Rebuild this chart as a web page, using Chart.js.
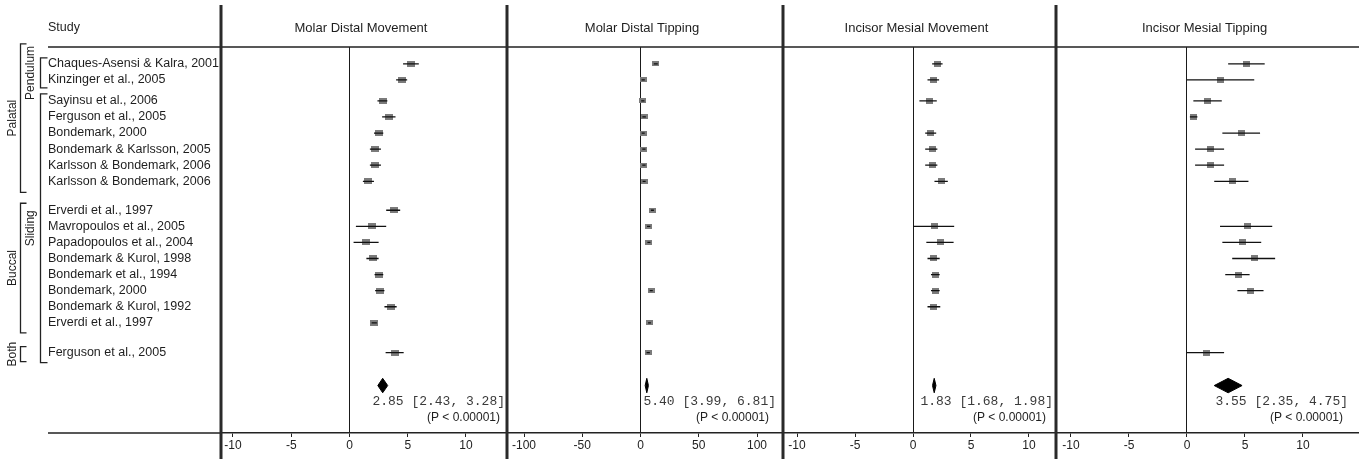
<!DOCTYPE html>
<html>
<head>
<meta charset="utf-8">
<title>Forest plot</title>
<script src="https://cdn.jsdelivr.net/npm/chart.js@4.4.1/dist/chart.umd.min.js"></script>
<style>
  html, body { margin: 0; padding: 0; background: #fff; }
  #wrap { width: 1359px; height: 459px; position: relative; }
</style>
</head>
<body>
<div id="wrap"><canvas id="forest"></canvas></div>
<script>
const studies = [
    'Chaques-Asensi & Kalra, 2001',
    'Kinzinger et al., 2005',
    'Sayinsu et al., 2006',
    'Ferguson et al., 2005',
    'Bondemark, 2000',
    'Bondemark & Karlsson, 2005',
    'Karlsson & Bondemark, 2006',
    'Karlsson & Bondemark, 2006',
    'Erverdi et al., 1997',
    'Mavropoulos et al., 2005',
    'Papadopoulos et al., 2004',
    'Bondemark & Kurol, 1998',
    'Bondemark et al., 1994',
    'Bondemark, 2000',
    'Bondemark & Kurol, 1992',
    'Erverdi et al., 1997',
    'Ferguson et al., 2005'
];

const panelTitles = ['Molar Distal Movement', 'Molar Distal Tipping', 'Incisor Mesial Movement', 'Incisor Mesial Tipping'];

// Molar distal movement (mm)
const molarMoveMean = [5.3, 4.5, 2.85, 3.4, 2.55, 2.2, 2.2, 1.6, 3.8, 1.95, 1.45, 2.05, 2.55, 2.6, 3.55, 2.1, 3.9];
const molarMoveLow = [4.6, 4.0, 2.4, 2.8, 2.1, 1.75, 1.75, 1.15, 3.15, 0.55, 0.35, 1.45, 2.15, 2.2, 3.0, 1.9, 3.1];
const molarMoveHigh = [5.95, 4.95, 3.25, 3.95, 2.9, 2.7, 2.7, 2.1, 4.35, 3.15, 2.5, 2.5, 2.9, 3.0, 4.05, 2.35, 4.65];

// Molar distal tipping (degrees)
const molarTipMean = [13.1, 2.3, 2.0, 3.1, 2.3, 2.9, 2.9, 3.1, 10.2, 7.0, 7.2, null, null, 9.2, null, 7.7, 6.6];
const molarTipLow = [11.4, 0.9, 0.6, 1.6, 1.0, 1.5, 1.5, 1.8, 8.9, 5.6, 5.9, null, null, 7.9, null, 6.5, 5.2];
const molarTipHigh = [14.8, 3.7, 3.4, 4.6, 3.6, 4.3, 4.3, 4.4, 11.5, 8.4, 8.5, null, null, 10.5, null, 8.9, 8.0];

// Incisor mesial movement (mm)
const incisorMoveMean = [2.1, 1.75, 1.4, null, 1.5, 1.65, 1.65, 2.45, null, 1.85, 2.35, 1.8, 1.9, 1.9, 1.8, null, null];
const incisorMoveLow = [1.65, 1.25, 0.55, null, 1.05, 1.05, 1.05, 1.85, null, 0.0, 1.15, 1.25, 1.55, 1.55, 1.25, null, null];
const incisorMoveHigh = [2.55, 2.25, 2.05, null, 2.0, 2.1, 2.1, 3.0, null, 3.55, 3.5, 2.3, 2.3, 2.3, 2.35, null, null];

// Incisor mesial tipping (degrees)
const incisorTipMean = [5.1, 2.9, 1.8, 0.6, 4.7, 2.0, 2.0, 3.9, null, 5.2, 4.8, 5.8, 4.4, 5.5, null, null, 1.65];
const incisorTipLow = [3.55, 0.0, 0.55, 0.25, 3.05, 0.7, 0.7, 2.35, null, 2.85, 3.05, 3.9, 3.3, 4.35, null, null, 0.0];
const incisorTipHigh = [6.7, 5.8, 3.0, 0.9, 6.3, 3.2, 3.2, 5.3, null, 7.35, 6.4, 7.6, 5.4, 6.6, null, null, 3.2];

// pooled estimates
const pooledMean = [2.85, 5.40, 1.83, 3.55];
const pooledLow = [2.43, 3.99, 1.68, 2.35];
const pooledHigh = [3.28, 6.81, 1.98, 4.75];
const pooledP = ['(P < 0.00001)', '(P < 0.00001)', '(P < 0.00001)', '(P < 0.00001)'];

const mmTicks = [-10, -5, 0, 5, 10];
const degTicks = [-100, -50, 0, 50, 100];

// bracket groups (first / last study index)
const outerGroups = [
    { label: 'Palatal', first: 0, last: 7 },
    { label: 'Buccal', first: 8, last: 15 },
    { label: 'Both', first: 16, last: 16 }
];
const innerGroups = [
    { label: 'Pendulum', first: 0, last: 1 },
    { label: 'Sliding', first: 2, last: 16 }
];

// row layout: study blocks and the extra space between them
const groupSizes = [2, 6, 8, 1];
const groupGaps = [0.3, 0.8, 0.85];
const pooledGap = 2.05;

const rowPos = [];
let r = 0;
groupSizes.forEach((n, g) => {
    for (let i = 0; i < n; i++) rowPos.push(r + i);
    r += n + (groupGaps[g] || 0);
});
const pooledRow = rowPos[rowPos.length - 1] + pooledGap;

// panel settings
const panels = [
    { mean: molarMoveMean, low: molarMoveLow, high: molarMoveHigh, ticks: mmTicks, min: -11.03, max: 13.52, weight: 286, box: [8, 6], textOff: [-2, -7] },
    { mean: molarTipMean, low: molarTipLow, high: molarTipHigh, ticks: degTicks, min: -114.6, max: 122.3, weight: 276, box: [7, 5], textOff: [-7, -14] },
    { mean: incisorMoveMean, low: incisorMoveLow, high: incisorMoveHigh, ticks: mmTicks, min: -11.21, max: 12.33, weight: 273, box: [7, 6], textOff: [-3, -10] },
    { mean: incisorTipMean, low: incisorTipLow, high: incisorTipHigh, ticks: mmTicks, min: -11.29, max: 14.83, weight: 303, box: [7, 6], textOff: [-11, -16] }
];

const outerPad = [[20, 11], [7, 10], [6, 9]];
const innerPad = [[6, 8], [7, 10]];

function makeBox(w, h) {
    const c = document.createElement('canvas');
    c.width = w;
    c.height = h;
    const g = c.getContext('2d');
    g.fillStyle = '#7b7b7b';
    g.fillRect(0, 0, w, h);
    return c;
}

const datasets = [];
const scales = {};

panels.forEach((p, k) => {
    const xid = 'x' + (k + 1);
    const points = [];
    const whiskers = [];
    p.mean.forEach((m, i) => {
        if (m === null) return;
        points.push({ x: m, y: rowPos[i] });
        whiskers.push({ x: p.low[i], y: rowPos[i] }, { x: p.high[i], y: rowPos[i] }, { x: null, y: null });
    });

    datasets.push({
        type: 'scatter', xAxisID: xid, yAxisID: 'y', data: points,
        pointStyle: makeBox(p.box[0], p.box[1]), pointRadius: 4, order: 3
    });
    datasets.push({
        type: 'line', xAxisID: xid, yAxisID: 'y', data: whiskers, showLine: true,
        borderColor: '#111', borderWidth: 1.3, pointRadius: 0, fill: false, spanGaps: false, order: 2
    });
    // pooled diamond: upper edge filled down to the lower edge
    const h = 0.45;
    datasets.push({
        type: 'line', xAxisID: xid, yAxisID: 'y', showLine: true,
        data: [{ x: pooledLow[k], y: pooledRow }, { x: pooledMean[k], y: pooledRow - h }, { x: pooledHigh[k], y: pooledRow }],
        borderColor: '#000', backgroundColor: '#000', borderWidth: 1, pointRadius: 0, fill: '+1', order: 1
    });
    datasets.push({
        type: 'line', xAxisID: xid, yAxisID: 'y', showLine: true,
        data: [{ x: pooledLow[k], y: pooledRow }, { x: pooledMean[k], y: pooledRow + h }, { x: pooledHigh[k], y: pooledRow }],
        borderColor: '#000', borderWidth: 1, pointRadius: 0, fill: false, order: 1
    });

    scales[xid] = {
        type: 'linear',
        position: 'bottom',
        stack: 'panels',
        stackWeight: p.weight,
        min: p.min,
        max: p.max,
        afterBuildTicks: s => { s.ticks = p.ticks.map(v => ({ value: v })); },
        afterFit: s => {
            s.height = 26;
            s.paddingLeft = 0;
            s.paddingRight = 0;
        },
        grid: {
            drawOnChartArea: true,
            color: ctx => (ctx.tick && ctx.tick.value === 0 ? '#1a1a1a' : 'rgba(0,0,0,0)'),
            tickColor: '#222',
            tickLength: 4,
            lineWidth: 1
        },
        border: { display: true, color: '#222', width: 1.5 },
        ticks: {
            autoSkip: false, maxRotation: 0, minRotation: 0, padding: 1,
            color: '#222', font: { size: 12 },
            callback: v => String(v)
        }
    };
});

scales.y = {
    type: 'linear',
    position: 'left',
    reverse: true,
    min: -1.05,
    max: 22.95,
    afterBuildTicks: s => { s.ticks = rowPos.map(v => ({ value: v })); },
    afterFit: s => {
        s.width = 173;
        s.paddingTop = 0;
        s.paddingBottom = 0;
    },
    grid: { display: false },
    border: { display: false },
    ticks: {
        autoSkip: false,
        crossAlign: 'far',
        color: '#1e1e1e',
        font: { size: 12.5 },
        callback: (v, i) => studies[i]
    }
};

const framePlugin = {
    id: 'frame',
    afterDraw(chart) {
        const { ctx, chartArea, scales } = chart;
        const ys = scales.y;
        const cols = ['x1', 'x2', 'x3', 'x4'].map(id => scales[id]);
        ctx.save();

        // header texts
        ctx.fillStyle = '#1e1e1e';
        ctx.textBaseline = 'middle';
        ctx.font = '12.5px "Liberation Sans", Arial, sans-serif';
        ctx.textAlign = 'left';
        ctx.fillText('Study', 48, 28);
        ctx.font = '13px "Liberation Sans", Arial, sans-serif';
        ctx.textAlign = 'center';
        cols.forEach((s, k) => ctx.fillText(panelTitles[k], (s.left + s.right) / 2 - 3, 28));

        // header line and the axis line under the study column
        ctx.strokeStyle = '#222';
        ctx.lineWidth = 1.5;
        ctx.beginPath();
        ctx.moveTo(48, chartArea.top);
        ctx.lineTo(chart.width, chartArea.top);
        ctx.moveTo(48, chartArea.bottom);
        ctx.lineTo(chartArea.left, chartArea.bottom);
        ctx.stroke();

        // thick panel separators
        ctx.lineWidth = 3;
        ctx.strokeStyle = '#2a2a2a';
        ctx.beginPath();
        cols.forEach(s => {
            ctx.moveTo(s.left, 5);
            ctx.lineTo(s.left, chart.height);
        });
        ctx.stroke();

        // group brackets with rotated labels
        ctx.lineWidth = 1.3;
        ctx.strokeStyle = '#222';
        ctx.font = '12px "Liberation Sans", Arial, sans-serif';
        ctx.textAlign = 'center';
        const bracket = (g, pad, x, tick, labelX) => {
            const top = ys.getPixelForValue(rowPos[g.first]) - pad[0];
            const bot = ys.getPixelForValue(rowPos[g.last]) + pad[1];
            ctx.beginPath();
            ctx.moveTo(x + tick, top);
            ctx.lineTo(x, top);
            ctx.lineTo(x, bot);
            ctx.lineTo(x + tick, bot);
            ctx.stroke();
            ctx.save();
            ctx.translate(labelX, (top + bot) / 2);
            ctx.rotate(-Math.PI / 2);
            ctx.fillText(g.label, 0, 0);
            ctx.restore();
        };
        outerGroups.forEach((g, i) => bracket(g, outerPad[i], 20.5, 6, 13));
        innerGroups.forEach((g, i) => bracket(g, innerPad[i], 40.5, 7, 31));

        // pooled estimate texts
        cols.forEach((s, k) => {
            const off = panels[k].textOff;
            ctx.textAlign = 'right';
            ctx.fillStyle = '#3a3a3a';
            ctx.font = '13px "Liberation Mono", "DejaVu Sans Mono", monospace';
            const txt = pooledMean[k].toFixed(2) + ' [' + pooledLow[k].toFixed(2) + ', ' + pooledHigh[k].toFixed(2) + ']';
            ctx.fillText(txt, s.right + off[0], ys.getPixelForValue(pooledRow + 1));
            ctx.fillStyle = '#1e1e1e';
            ctx.font = '12px "Liberation Sans", Arial, sans-serif';
            ctx.fillText(pooledP[k], s.right + off[1], ys.getPixelForValue(pooledRow + 2));
        });

        ctx.restore();
    }
};

Chart.defaults.font.family = '"Liberation Sans", Arial, sans-serif';

new Chart(document.getElementById('forest'), {
    type: 'scatter',
    data: { datasets: datasets },
    options: {
        responsive: true,
        maintainAspectRatio: false,
        animation: false,
        events: [],
        layout: { autoPadding: false, padding: { left: 48, top: 47, right: 0, bottom: 0 } },
        plugins: {
            legend: { display: false },
            tooltip: { enabled: false }
        },
        scales: scales
    },
    plugins: [framePlugin]
});
</script>
</body>
</html>
